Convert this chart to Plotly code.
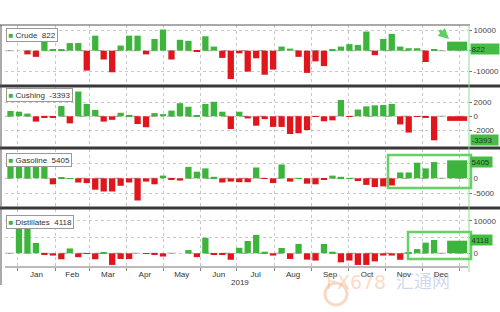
import pandas as pd
import plotly.graph_objects as go
from plotly.subplots import make_subplots

# ---------------- data ----------------
weeks = pd.date_range("2018-12-26", periods=51, freq="7D")
highlight_date = ["2019-12-30"]

crude = [0, 0, -1800, -3000, 5300, 600, 800, 3700, 3700, -9700,
         7300, -4300, -10500, 2500, 7300, 7300, -1800, 5700, 10300, -4300,
         5300, 4800, -300, 7000, 2000, -3500, -13800, -1300, -10200, -3700,
         -11700, -9200, 2000, 1000, -3000, -10800, -5200, -7500, 800, 2000,
         3200, 2800, 9300, -2200, 5700, 8200, 2000, 1200, 1200, -5500, 822]
cushing = [750, 650, 380, -750, -200, -200, 1450, -1000, 3500, 1750,
           900, -750, -500, 500, 200, -1100, -1550, 450, 300, 800,
           1850, 1350, 50, 1750, 2050, 650, -1800, 650, -300, -1330,
           -400, -1500, -1500, -2500, -2400, -1950, -100, -700, -570, 2300,
           -100, 950, 1400, 1550, 1600, 1750, -1150, -2300, -100, -200, -3393]
gasoline = [4000, 6900, 8100, 5900, 3800, -2000, 400, 100, -1400, -1600,
            -3800, -4400, -4400, -2500, -1400, -7400, -1100, -2000, 900, -550,
            -750, 3800, 2200, 3300, 500, -1400, -1100, -1300, -1300, 3600,
            -100, -1600, 4600, -1100, 100, -1800, -2000, -550, 900, 500,
            100, -900, -2200, -2900, -2700, -2400, 1950, 1950, 5200, 3300, 5405]
distillates = [0, 9500, 10600, 3200, -500, -700, -1850, 1500, -1200, -100,
               -1850, 100, -3600, -1750, -1750, 0, -100, -500, -1000, 0,
               0, 1000, -1200, 4800, -500, -300, -2000, 1700, 3800, 5700,
               500, -700, 1650, -1750, 2900, -1950, -2250, 2900, 500, -2800,
               -2250, -3600, -3600, -2500, -700, -700, -2000, 100, 1300, 3300, 4118]
highlight = [4400, -650, 6000, 3900]

names = ["Crude", "Cushing", "Gasoline", "Distillates"]
latest = ["822", "-3393", "5405", "4118"]
latest_val = [822, -3393, 5405, 4118]
series = [crude, cushing, gasoline, distillates]
yranges = [[-16700, 12500], [-4340, 4140], [-9570, 9770], [-4240, 13700]]
ytickvals = [[-10000, 0, 10000], [-2000, 0, 2000], [-5000, 0, 5000], [0, 5000, 10000]]
yticktext = [["-10000", "", "10000"], ["-2000", "0", "2000"], ["-5000", "0", ""], ["0", "", "10000"]]
month_year = "2019"

# ---------------- style ----------------
W, H = 500, 312
GREEN = "#3db53d"
RED = "#e0161c"
FONT = "Liberation Sans"
panel_px = [(25, 85), (87, 147), (149, 207), (209, 267)]
x_left_px, x_right_px = 5, 468
DAY = 86400000

def px_x(p):
    return p / W

def px_y(p):
    return 1 - p / H

fig = make_subplots(rows=4, cols=1, shared_xaxes=True, vertical_spacing=0.01)

for i, vals in enumerate(series):
    colors = [GREEN if v >= 0 else RED for v in vals]
    fig.add_trace(go.Bar(x=weeks, y=vals, marker_color=colors, marker_line_width=0,
                         width=5.2 * DAY, hoverinfo="skip"), row=i + 1, col=1)
    fig.add_trace(go.Bar(x=highlight_date, y=[highlight[i]],
                         marker_color=GREEN if highlight[i] >= 0 else RED,
                         marker_line_width=0, width=16.5 * DAY, hoverinfo="skip"),
                  row=i + 1, col=1)

fig.update_layout(width=W, height=H, margin=dict(l=0, r=0, t=0, b=0),
                  paper_bgcolor="white", plot_bgcolor="white", showlegend=False,
                  barmode="overlay", font=dict(family=FONT, size=8, color="#333"))

for i in range(4):
    top, bot = panel_px[i]
    yname = "yaxis" if i == 0 else f"yaxis{i + 1}"
    xname = "xaxis" if i == 0 else f"xaxis{i + 1}"
    fig.layout[yname].update(domain=[px_y(bot), px_y(top)], side="right",
                             range=yranges[i], tickvals=ytickvals[i], ticktext=yticktext[i],
                             showgrid=True, gridcolor="#c8c8c8", griddash="dot", gridwidth=1,
                             zeroline=False, ticks="outside", ticklen=3, tickcolor="#777",
                             tickfont=dict(size=8, color="#444", family=FONT), fixedrange=True)
    fig.layout[xname].update(domain=[px_x(x_left_px), px_x(x_right_px)], type="date",
                             range=["2018-12-21 11:00", "2020-01-08"],
                             tick0="2019-01-01", dtick="M1", ticklabelmode="period",
                             tickformat="%b", showgrid=True, gridcolor="#c8c8c8",
                             griddash="dot", gridwidth=1, zeroline=False,
                             showticklabels=(i == 3), ticks="outside" if i == 3 else "",
                             ticklen=3, tickcolor="#888",
                             tickfont=dict(size=8, color="#333", family=FONT))
fig.layout.xaxis4.ticklabelstandoff = -4

shapes = []
# zero lines
for i in range(4):
    yref = "y" if i == 0 else f"y{i + 1}"
    shapes.append(dict(type="line", xref="paper", yref=yref, x0=px_x(x_left_px), x1=px_x(x_right_px),
                       y0=0, y1=0, line=dict(color="#8a8a8a", width=1, dash="dash"), layer="below"))
# separators
for yp in (86, 148, 208):
    shapes.append(dict(type="line", xref="paper", yref="paper", x0=0, x1=1,
                       y0=px_y(yp), y1=px_y(yp), line=dict(color="#383838", width=3)))
shapes.append(dict(type="line", xref="paper", yref="paper", x0=0, x1=px_x(470),
                   y0=px_y(25), y1=px_y(25), line=dict(color="#555", width=1)))
shapes.append(dict(type="line", xref="paper", yref="paper", x0=px_x(x_left_px), x1=px_x(x_right_px),
                   y0=px_y(267), y1=px_y(267), line=dict(color="#777", width=1)))
shapes.append(dict(type="line", xref="paper", yref="paper", x0=px_x(1), x1=px_x(1),
                   y0=px_y(25), y1=px_y(285), line=dict(color="#555", width=1)))
# green cursor line
shapes.append(dict(type="line", xref="paper", yref="paper", x0=px_x(469), x1=px_x(469),
                   y0=px_y(25), y1=px_y(272), line=dict(color="#8fdc8f", width=1)))
# editor boxes
shapes.append(dict(type="rect", xref="paper", yref="paper", x0=px_x(388), x1=px_x(471),
                   y0=px_y(188), y1=px_y(155), line=dict(color="#66d166", width=2.5)))
shapes.append(dict(type="rect", xref="paper", yref="paper", x0=px_x(408), x1=px_x(471),
                   y0=px_y(259), y1=px_y(232), line=dict(color="#66d166", width=2.5)))
# watermark logo circle
shapes.append(dict(type="circle", xref="paper", yref="paper", x0=px_x(325), x1=px_x(347),
                   y0=px_y(305), y1=px_y(283), line=dict(color="rgba(240,160,110,0.4)", width=3)))
fig.update_layout(shapes=shapes)

ann = []
legend_top = [28, 88, 153, 215]
box_w = [27, 26, 20, 20]
for i in range(4):
    ann.append(dict(xref="paper", yref="paper", x=px_x(6), y=px_y(legend_top[i]),
                    xanchor="left", yanchor="top", showarrow=False,
                    text=f"<span style='color:{GREEN}'>■</span> {names[i]}  {latest[i]}",
                    font=dict(size=8, color="#333", family=FONT),
                    bgcolor="white", bordercolor="#999", borderwidth=1, borderpad=1.5))
    yref = "y" if i == 0 else f"y{i + 1}"
    ann.append(dict(xref="paper", yref=yref, x=px_x(470), y=latest_val[i],
                    xanchor="left", yanchor="middle", showarrow=False, text=latest[i],
                    width=box_w[i], align="left",
                    font=dict(size=8, color="#1f3d1f", family=FONT),
                    bgcolor="#45bd45", borderpad=0.5))
ann.append(dict(xref="paper", yref="paper", x=px_x(240), y=px_y(282), yanchor="middle",
                showarrow=False, text=month_year, font=dict(size=8, color="#333", family=FONT)))
ann.append(dict(xref="paper", yref="paper", x=px_x(449), y=px_y(39), ax=-11, ay=-10,
                showarrow=True, arrowhead=2, arrowsize=0.7, arrowwidth=3,
                arrowcolor="#5dcf5d", text=""))
ann.append(dict(xref="paper", yref="paper", x=px_x(388), y=px_y(295), showarrow=False,
                text="FX678", font=dict(size=19, color="rgba(245,160,110,0.4)", family="DejaVu Sans")))
ann.append(dict(xref="paper", yref="paper", x=px_x(452), y=px_y(295), showarrow=False,
                text="汇通网", font=dict(size=18, color="rgba(110,140,205,0.35)", family="Noto Sans CJK SC")))
fig.update_layout(annotations=ann)

fig.write_html("out.html")
